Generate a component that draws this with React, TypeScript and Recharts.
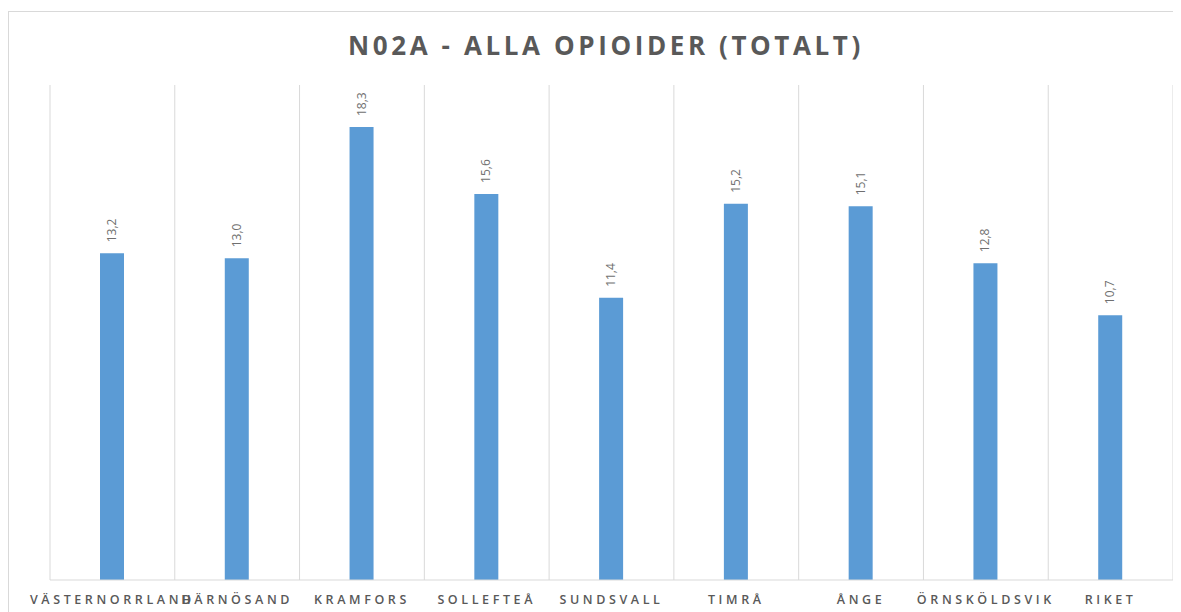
import React from 'react'
import { BarChart, Bar, XAxis, YAxis, CartesianGrid, LabelList } from 'recharts'

const regions = [
  'VÄSTERNORRLAND',
  'HÄRNÖSAND',
  'KRAMFORS',
  'SOLLEFTEÅ',
  'SUNDSVALL',
  'TIMRÅ',
  'ÅNGE',
  'ÖRNSKÖLDSVIK',
  'RIKET',
]
const values = [13.2, 13.0, 18.3, 15.6, 11.4, 15.2, 15.1, 12.8, 10.7]

const data = regions.map((name, i) => ({ name, value: values[i] }))

const FONT = 'Open Sans, "DejaVu Sans", sans-serif'
const GREY = '#595959'

const CategoryTick = (props: any) => {
  const { x, y, payload } = props
  return (
    <text
      x={x}
      y={y + 16}
      textAnchor="middle"
      fontFamily={FONT}
      fontSize={12.5}
      fontWeight={600}
      letterSpacing={3.6}
      fill={GREY}
    >
      {payload.value}
    </text>
  )
}

const ValueLabel = (props: any) => {
  const { x, y, width, value } = props
  const cx = x + width / 2 + 4
  const cy = y - 11
  return (
    <text
      x={cx}
      y={cy}
      transform={`rotate(-90 ${cx} ${cy})`}
      textAnchor="start"
      fontFamily={FONT}
      fontSize={12}
      fill="#6f6f6f"
    >
      {value.toFixed(1).replace('.', ',')}
    </text>
  )
}

export default function App() {
  return (
    <div
      style={{
        position: 'relative',
        width: 1173,
        height: 601,
        marginTop: 3,
        borderTop: '1px solid #d9d9d9',
        borderLeft: '1px solid #d9d9d9',
        overflow: 'hidden',
        background: '#fff',
      }}
    >
      <div
        style={{
          position: 'absolute',
          top: 15,
          left: 0,
          width: 1194,
          textAlign: 'center',
          fontFamily: FONT,
          fontWeight: 700,
          fontSize: 26,
          letterSpacing: 3.6,
          color: GREY,
        }}
      >
        N02A - ALLA OPIOIDER (TOTALT)
      </div>
      <BarChart
        width={1172}
        height={600}
        data={data}
        margin={{ top: 73, right: 8, left: 41, bottom: 0 }}
      >
        <CartesianGrid
          horizontal={false}
          stroke="#d9d9d9"
          verticalCoordinatesGenerator={({ offset }: any) =>
            Array.from({ length: regions.length + 1 }, (_, i) => offset.left + (i * offset.width) / regions.length)
          }
        />
        <XAxis
          dataKey="name"
          axisLine={{ stroke: '#d9d9d9' }}
          tickLine={false}
          tick={<CategoryTick />}
          interval={0}
          height={32}
        />
        <YAxis hide domain={[0, 20]} />
        <Bar dataKey="value" fill="#5b9bd5" barSize={24} isAnimationActive={false}>
          <LabelList dataKey="value" content={<ValueLabel />} />
        </Bar>
      </BarChart>
    </div>
  )
}
